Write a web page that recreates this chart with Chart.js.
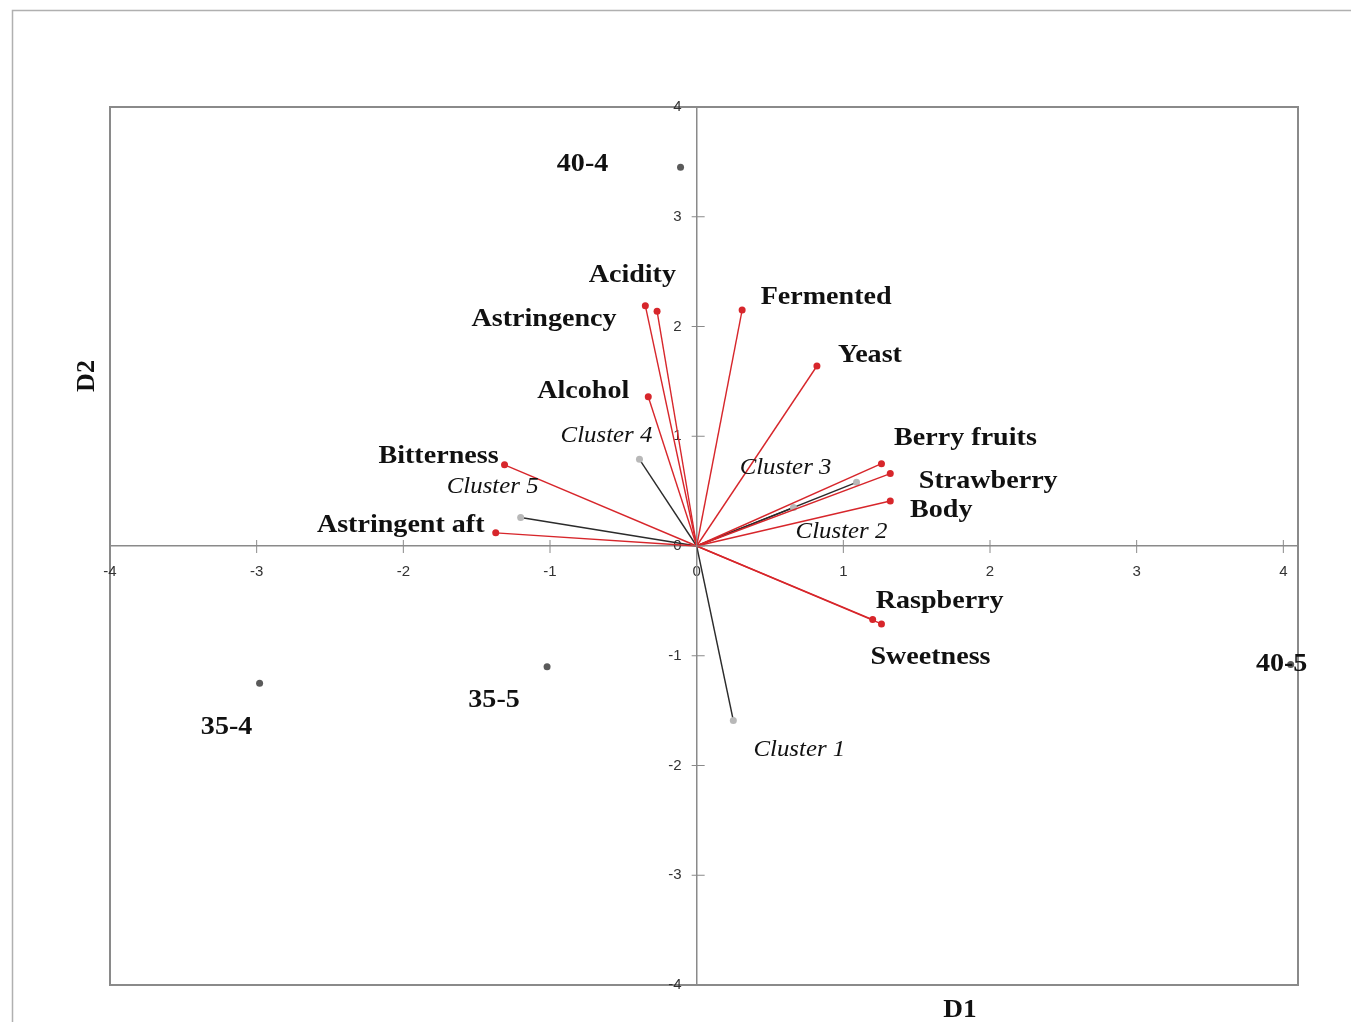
<!DOCTYPE html>
<html>
<head>
<meta charset="utf-8">
<script src="https://cdn.jsdelivr.net/npm/chart.js@4.4.0/dist/chart.umd.min.js"></script>
<style>
  html, body { margin:0; padding:0; background:#fff; }
  #wrap { width:1351px; height:1026px; }
</style>
</head>
<body>
<div id="wrap"><canvas id="biplot"></canvas></div>
<script>
// ── data (D1, D2) ───────────────────────────────────────────────────
const attrNames = ['Acidity','Astringency','Fermented','Yeast','Alcohol','Bitterness','Astringent aft','Berry fruits','Strawberry','Body','Raspberry','Sweetness'];
const attrD1    = [-0.35, -0.27, 0.31, 0.82, -0.33, -1.31, -1.37, 1.26, 1.32, 1.32, 1.20, 1.26];
const attrD2    = [ 2.19,  2.14, 2.15, 1.64,  1.36,  0.74,  0.12, 0.75, 0.66, 0.41, -0.67, -0.71];

const clusterNames = ['Cluster 1','Cluster 2','Cluster 3','Cluster 4','Cluster 5'];
const clusterD1    = [ 0.25, 0.66, 1.09, -0.39, -1.20];
const clusterD2    = [-1.59, 0.35, 0.58,  0.79,  0.26];

const sampleNames = ['40-4','35-4','35-5','40-5'];
const sampleD1    = [-0.11, -2.98, -1.02, 4.05];
const sampleD2    = [ 3.45, -1.25, -1.10, -1.08];

const tickValues = [-4,-3,-2,-1,0,1,2,3,4];

// label offsets in px from the point (style, not data)
const labelOffsets = {
  'Acidity':[-13,-30], 'Astringency':[-113,8], 'Fermented':[84,-13], 'Yeast':[53,-11],
  'Alcohol':[-65,-5], 'Bitterness':[-66,-9], 'Astringent aft':[-95,-8], 'Berry fruits':[84,-25],
  'Strawberry':[98,8], 'Body':[51,9], 'Raspberry':[67,-18], 'Sweetness':[49,33],
  'Cluster 1':[66,29], 'Cluster 2':[48,24], 'Cluster 3':[-71,-14], 'Cluster 4':[-33,-23], 'Cluster 5':[-28,-31],
  '40-4':[-98,-3], '35-4':[-33,44], '35-5':[-53,34], '40-5':[-9,0]
};

const RED = '#d7262b';

const datasets = [];
attrNames.forEach((n, i) => {
  datasets.push({ label:n, kind:'attr', data:[{x:0,y:0},{x:attrD1[i],y:attrD2[i]}], showLine:true,
    borderColor:RED, borderWidth:1.4, backgroundColor:RED, pointBorderWidth:0,
    pointRadius:[0,3.5], order:1 });
});
clusterNames.forEach((n, i) => {
  datasets.push({ label:n, kind:'cluster', data:[{x:0,y:0},{x:clusterD1[i],y:clusterD2[i]}], showLine:true,
    borderColor:'#2b2b2b', borderWidth:1.4, backgroundColor:'#b8b8b8', pointBorderWidth:0,
    pointRadius:[0,3.5], order:2 });
});
datasets.push({ label:'samples', kind:'sample', data: sampleD1.map((v,i)=>({x:v,y:sampleD2[i]})),
  backgroundColor:'#5a5a5a', pointBorderWidth:0, pointRadius:3.5, showLine:false, order:0 });

function wideText(c, txt, x, y, sx) {
  c.save(); c.translate(x, y); c.scale(sx, 1); c.fillText(txt, 0, 0); c.restore();
}

// frame, plot border, cross ticks, axis titles, point labels
const decor = {
  id:'decor',
  beforeDraw(chart) {
    const c = chart.ctx, a = chart.chartArea;
    c.save();
    c.strokeStyle = '#b0b0b0'; c.lineWidth = 1.5;
    c.beginPath(); c.moveTo(12.5, 1022); c.lineTo(12.5, 10.5); c.lineTo(1351, 10.5); c.stroke();
    c.strokeStyle = '#8a8a8a'; c.lineWidth = 2;
    c.strokeRect(a.left, a.top, a.right - a.left, a.bottom - a.top);
    c.restore();
  },
  afterDatasetsDraw(chart) {
    const c = chart.ctx, a = chart.chartArea, xs = chart.scales.x, ys = chart.scales.y;
    const x0 = xs.getPixelForValue(0), y0 = ys.getPixelForValue(0);
    c.save();
    c.strokeStyle = '#8a8a8a'; c.lineWidth = 1;
    tickValues.forEach(v => {
      const px = xs.getPixelForValue(v), py = ys.getPixelForValue(v);
      c.beginPath(); c.moveTo(px, y0 - 6); c.lineTo(px, y0 + 7); c.stroke();
      c.beginPath(); c.moveTo(x0 - 5, py); c.lineTo(x0 + 8, py); c.stroke();
    });
    c.fillStyle = '#111'; c.textAlign = 'center'; c.textBaseline = 'middle';
    chart.data.datasets.forEach(ds => {
      const pts = ds.kind === 'sample' ? ds.data.map((p,i)=>[sampleNames[i],p]) : [[ds.label, ds.data[1]]];
      c.font = ds.kind === 'cluster' ? 'italic 23px "Liberation Serif", serif' : 'bold 26px "Liberation Serif", serif';
      pts.forEach(([name, p]) => {
        const o = labelOffsets[name] || [0,0];
        wideText(c, name, xs.getPixelForValue(p.x) + o[0], ys.getPixelForValue(p.y) + o[1], 1.08);
      });
    });
    c.font = 'bold 26px "Liberation Serif", serif';
    wideText(c, 'D1', a.left + 850, a.bottom + 25, 1.05);
    c.translate(a.left - 23, a.top + 269);
    c.rotate(-Math.PI/2);
    c.fillText('D2', 0, 0);
    c.restore();
  }
};

const tickFont = { family:'"Liberation Sans Narrow","Liberation Sans",sans-serif', size:15 };

new Chart(document.getElementById('biplot'), {
  type:'scatter',
  data:{ datasets },
  options:{
    responsive:true, maintainAspectRatio:false, animation:false,
    layout:{ padding:{ left:110, top:107, right:53, bottom:41 } },
    plugins:{ legend:{ display:false }, tooltip:{ enabled:false } },
    scales:{
      x:{ type:'linear', position:{ y:0 }, min:-4, max:4.1,
          afterBuildTicks: s => { s.ticks = tickValues.map(v => ({ value:v })); },
          ticks:{ autoSkip:false, maxRotation:0, padding:17, color:'#333', font:tickFont },
          grid:{ drawOnChartArea:false, drawTicks:false },
          border:{ color:'#8a8a8a', width:1.5 } },
      y:{ type:'linear', position:{ x:0 }, min:-4, max:4,
          afterBuildTicks: s => { s.ticks = tickValues.map(v => ({ value:v })); },
          // centre-positioned y axis ignores padding, so pad the label text
          ticks:{ autoSkip:false, color:'#333', font:tickFont, callback: v => v + '\u2002\u2002' },
          grid:{ drawOnChartArea:false, drawTicks:false },
          border:{ color:'#8a8a8a', width:1.5 } }
    }
  },
  plugins:[decor]
});
</script>
</body>
</html>
